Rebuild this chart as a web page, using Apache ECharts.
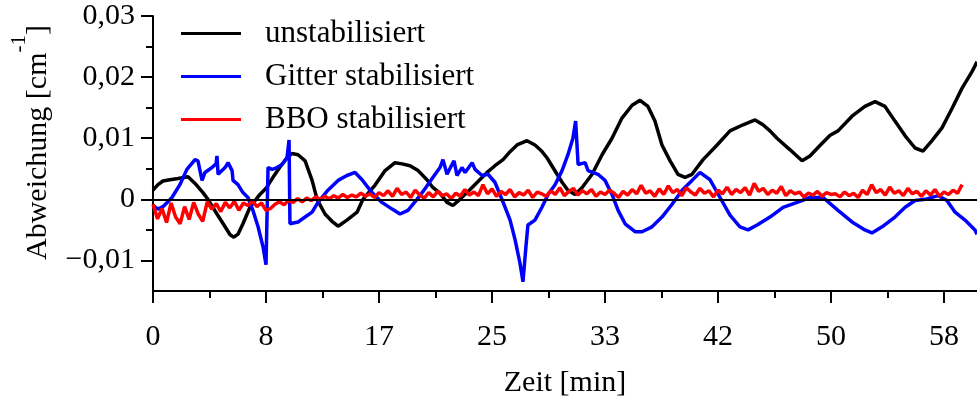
<!DOCTYPE html>
<html>
<head>
<meta charset="utf-8">
<script src="https://cdn.jsdelivr.net/npm/echarts@6/dist/echarts.min.js"></script>
<style>
  html, body { margin: 0; padding: 0; background: #fff; }
  #chart { width: 977px; height: 403px; }
</style>
</head>
<body>
<div id="chart"></div>
<script>
// Frequency drift of the three laser configurations over one hour.
// Time in seconds, deviation in units of 1e-3 cm^-1.
const MILLI = 1e-3;
const seriesNames = ['unstabilisiert', 'Gitter stabilisiert', 'BBO stabilisiert'];

const xMajorTicks = [0, 500, 1000, 1500, 2000, 2500, 3000, 3500];
const xMinorTicks = [250, 750, 1250, 1750, 2250, 2750, 3250];
const yMajorTicks = [-0.01, 0, 0.01, 0.02, 0.03];
const yMinorTicks = [-0.005, 0.005, 0.015, 0.025];

// unstabilisiert: [t (s), deviation (1e-3 cm^-1)]
const blackPts = [
  [0,1.5],[22,2.4],[44,3.0],[75,3.2],[111,3.4],[155,3.7],[186,2.6],[221,1.1],[243,0],
  [283,-2.4],[314,-4.2],[341,-5.8],[358,-6.2],[376,-5.7],[398,-4.0],[429,-1.3],[473,0.8],
  [500,1.8],[531,3.6],[562,5.3],[593,6.8],[615,7.5],[642,7.3],[673,6.3],[704,3.1],[726,0],
  [761,-2.4],[792,-3.6],[819,-4.4],[858,-3.4],[903,-2.1],[929,0],[956,1.2],[982,2.3],
  [1027,4.7],[1071,6.0],[1102,5.8],[1137,5.5],[1173,4.7],[1212,3.2],[1239,1.9],[1270,1.0],
  [1301,-0.5],[1327,-1.0],[1358,0],[1403,1.6],[1478,4.4],[1513,5.5],[1549,6.5],[1580,7.8],
  [1611,8.9],[1655,9.6],[1690,8.9],[1717,8.0],[1743,6.8],[1788,4.1],[1810,2.8],[1836,1.5],
  [1867,0.8],[1898,1.9],[1943,4.1],[1987,7.3],[2031,10.0],[2075,13.3],[2120,15.4],[2155,16.2],
  [2190,15.2],[2221,12.8],[2252,8.9],[2288,6.3],[2323,4.1],[2354,3.6],[2385,4.1],[2434,6.5],
  [2496,8.9],[2553,11.2],[2611,12.2],[2664,13.0],[2699,12.2],[2730,11.2],[2761,10.0],[2819,8.1],
  [2872,6.3],[2907,7.1],[2951,8.8],[2996,10.5],[3031,11.2],[3093,13.6],[3150,15.2],[3195,16.0],
  [3239,15.2],[3283,12.8],[3328,10.4],[3372,8.4],[3407,7.9],[3447,9.6],[3491,11.7],[3536,14.9],
  [3580,18.2],[3624,20.9],[3646,22.5]
];

// Gitter stabilisiert
const bluePts = [
  [0,-1.0],[22,-1.6],[44,-1.2],[66,-0.4],[84,0.3],[119,2.4],[150,4.9],[186,6.5],[199,6.3],
  [217,3.1],[230,4.4],[261,5.2],[279,5.8],[283,7.1],[288,4.1],[319,5.2],[332,6.0],[350,4.7],
  [354,3.1],[376,2.4],[398,1.1],[420,0.3],[442,-1.8],[465,-4.5],[487,-7.8],[500,-10.7],
  [509,5.2],[527,4.9],[549,5.2],[571,5.7],[593,6.8],[602,9.7],[606,-4.0],[642,-3.7],
  [673,-2.9],[704,-2.1],[730,-0.5],[774,1.5],[819,3.1],[858,3.9],[894,4.4],[925,3.2],
  [969,1.1],[1013,-0.5],[1058,-1.6],[1093,-2.4],[1128,-1.8],[1168,0],[1195,1.3],[1239,3.6],
  [1270,5.2],[1283,6.5],[1301,4.1],[1323,5.7],[1332,6.3],[1345,3.9],[1367,5.2],[1381,4.4],
  [1412,6.0],[1425,4.9],[1456,3.9],[1482,4.1],[1513,2.8],[1535,0.8],[1558,-1.3],[1580,-3.4],
  [1602,-6.6],[1624,-10.5],[1637,-13.5],[1650,-7.8],[1659,-4.2],[1690,-3.4],[1721,-1.3],
  [1748,0.8],[1779,2.4],[1810,4.7],[1836,7.3],[1858,10.0],[1870,12.8],[1881,5.7],[1912,6.0],
  [1925,4.7],[1969,4.1],[2000,3.1],[2031,0.8],[2058,-1.8],[2089,-4.0],[2133,-5.3],[2164,-5.3],
  [2208,-4.5],[2252,-2.9],[2297,-0.8],[2341,1.5],[2385,3.1],[2420,4.4],[2465,3.2],[2509,0.3],
  [2553,-2.6],[2597,-4.5],[2633,-5.0],[2673,-4.2],[2730,-2.9],[2788,-1.3],[2850,-0.5],
  [2907,0.3],[2965,0.3],[2973,0],[3031,-1.8],[3093,-3.7],[3150,-5.0],[3181,-5.5],[3226,-4.5],
  [3283,-2.9],[3328,-1.3],[3372,-0.2],[3416,0],[3474,0.6],[3513,-0.2],[3549,-2.1],[3593,-3.4],
  [3637,-5.0],[3646,-5.7]
];

// BBO stabilisiert, logged every redStep seconds
const redStep = 20;
const redVals = [
  -0.8,-3.2,-1.5,-3.8,-0.6,-2.9,-4.0,-1.2,-3.3,-0.5,-2.4,-3.6,
  -0.4,-1.6,-0.7,-2.0,-0.5,-1.4,-0.3,-1.8,-0.6,
  -1.0,-0.3,-1.2,-0.6,-1.8,-1.5,-0.8,-0.4,-0.9,-0.2,
  -0.5,0.1,-0.4,0.2,-0.2,0.4,0.0,0.5,0.1,0.6,0.2,0.8,0.3,0.7,0.4,1.0,0.5,0.9,0.3,1.1,
  0.6,1.4,0.5,1.8,0.8,1.2,0.3,1.5,0.7,0.2,1.1,0.4,1.3,0.6,0.9,0.1,1.0,0.5,1.6,0.7,
  1.2,0.6,2.4,0.9,1.7,0.5,1.3,0.8,1.6,0.4,1.1,0.7,1.5,0.3,1.2,0.9,0.5,1.4,0.8,1.9,
  0.6,1.3,1.8,0.7,1.4,0.9,1.6,0.5,1.2,0.8,1.5,1.0,0.3,1.3,0.7,1.6,0.9,2.3,1.0,1.4,
  0.5,1.7,0.8,2.2,1.1,1.6,0.6,1.9,1.2,0.7,1.8,1.0,1.4,0.4,1.5,0.9,2.0,0.8,1.6,1.1,
  1.9,0.7,2.6,1.3,1.8,0.8,1.5,1.0,2.1,0.6,1.4,0.9,1.2,0.4,1.0,0.7,1.3,0.5,1.1,0.8,
  0.9,0.4,1.2,0.6,1.0,0.3,1.5,0.8,2.4,1.1,1.6,0.7,2.0,1.0,1.4,0.6,1.8,0.9,1.3,0.5,
  1.4,0.7,1.6,0.5,1.2,0.8,1.5,1.0,2.4
];

const FONT = '"Liberation Serif", "Times New Roman", serif';
const INK = '#000';
const T_MAX = 3646;
const LINE_W = 3.5;

const toCm = p => [p[0], p[1] * MILLI];
const blackData = blackPts.map(toCm);
const blueData = bluePts.map(toCm);
const redData = redVals.map((v, i) => [i * redStep, v * MILLI]);

function fmtY(v) {
  if (Math.abs(v) < 1e-9) return '0';
  const s = Math.abs(v).toFixed(2).replace('.', ',');
  return v < 0 ? '\u2212' + s : s;
}

const axisLineStyle = { color: INK, width: 2 };

const chart = echarts.init(document.getElementById('chart'), null, { renderer: 'canvas' });

chart.setOption({
  animation: false,
  backgroundColor: '#fff',
  grid: { left: 153, right: 0, top: 16, bottom: 110, containLabel: false },
  legend: {
    data: seriesNames,
    orient: 'vertical',
    left: 181,
    top: 18,
    padding: 0,
    icon: 'rect',
    itemWidth: 60,
    itemHeight: 3,
    itemGap: 12,
    textStyle: { fontFamily: FONT, fontSize: 31, color: INK, lineHeight: 30, padding: [0, 0, 0, 19] }
  },
  xAxis: [
    {
      type: 'value', min: 0, max: T_MAX, position: 'bottom',
      axisLine: { show: true, onZero: false, lineStyle: axisLineStyle },
      axisTick: { show: true, inside: false, length: 12, lineStyle: axisLineStyle, customValues: xMajorTicks },
      axisLabel: {
        customValues: xMajorTicks, margin: 31,
        formatter: v => String(Math.round(v / 60)),
        fontFamily: FONT, fontSize: 30, color: INK
      },
      splitLine: { show: false },
      name: 'Zeit [min]', nameLocation: 'middle', nameGap: 77,
      nameTextStyle: { fontFamily: FONT, fontSize: 30, color: INK }
    },
    {
      type: 'value', min: 0, max: T_MAX, position: 'bottom',
      axisLine: { show: false, onZero: false },
      axisTick: { show: true, inside: false, length: 7, lineStyle: axisLineStyle, customValues: xMinorTicks },
      axisLabel: { show: false },
      splitLine: { show: false }
    }
  ],
  yAxis: [
    {
      type: 'value', min: -0.015, max: 0.03, position: 'left',
      axisLine: { show: true, onZero: false, lineStyle: axisLineStyle },
      axisTick: { show: true, inside: false, length: 12, lineStyle: axisLineStyle, customValues: yMajorTicks },
      axisLabel: {
        customValues: yMajorTicks, margin: 18, formatter: fmtY,
        fontFamily: FONT, fontSize: 30, color: INK
      },
      splitLine: { show: false },
      name: '{t|Abweichung [cm}{s|-1}{t|]}',
      nameLocation: 'middle', nameGap: 100,
      nameTextStyle: {
        padding: [0, 0, 0, 22],
        rich: {
          t: { fontFamily: FONT, fontSize: 30, color: INK, lineHeight: 44, verticalAlign: 'bottom' },
          s: { fontFamily: FONT, fontSize: 21, color: INK, lineHeight: 26, verticalAlign: 'top' }
        }
      }
    },
    {
      type: 'value', min: -0.015, max: 0.03, position: 'left',
      axisLine: { show: false, onZero: false },
      axisTick: { show: true, inside: false, length: 7, lineStyle: axisLineStyle, customValues: yMinorTicks },
      axisLabel: { show: false },
      splitLine: { show: false }
    }
  ],
  series: [
    {
      name: seriesNames[0], type: 'line', data: blackData,
      showSymbol: false, symbol: 'none', color: '#000',
      lineStyle: { color: '#000', width: LINE_W }
    },
    {
      name: seriesNames[1], type: 'line', data: blueData,
      showSymbol: false, symbol: 'none', color: '#0000ff',
      lineStyle: { color: '#0000ff', width: LINE_W }
    },
    {
      name: seriesNames[2], type: 'line', data: redData,
      showSymbol: false, symbol: 'none', color: '#ff0000',
      lineStyle: { color: '#ff0000', width: LINE_W }
    },
    {
      // zero reference line
      name: 'zero', type: 'line', data: [], silent: true,
      markLine: {
        silent: true, symbol: ['none', 'none'], label: { show: false },
        lineStyle: { color: INK, width: 2, type: 'solid' },
        data: [{ yAxis: 0 }]
      }
    }
  ]
});
</script>
</body>
</html>
